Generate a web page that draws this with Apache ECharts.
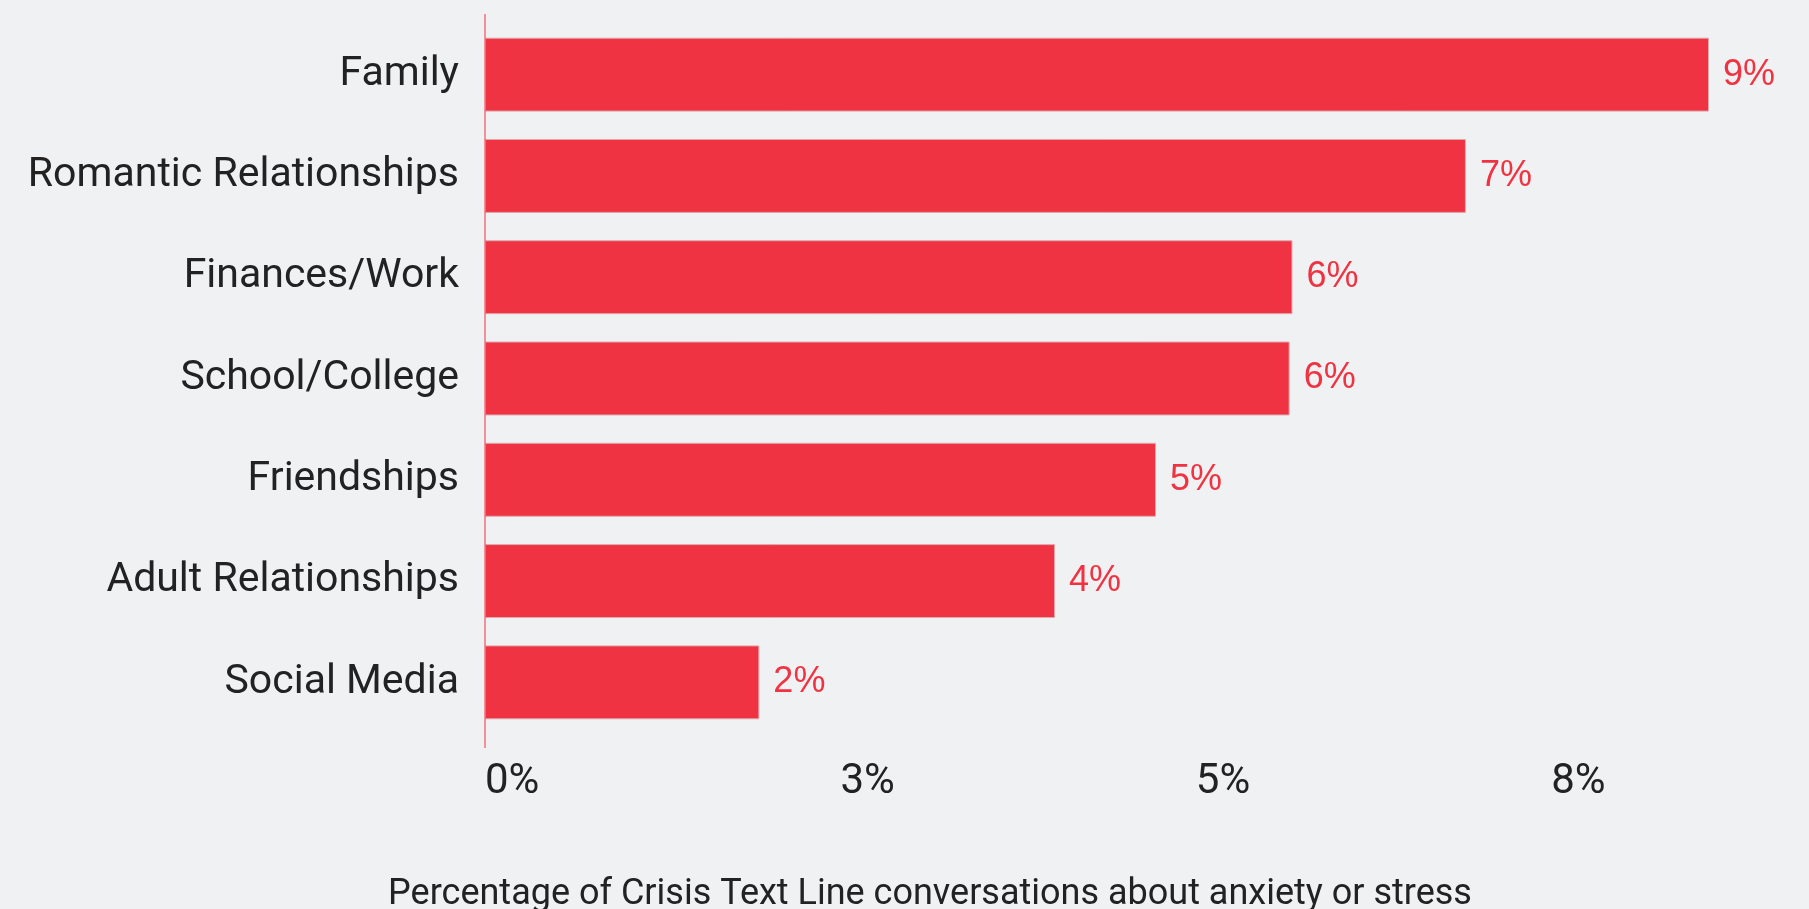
<!DOCTYPE html>
<html>
<head>
<meta charset="utf-8">
<script src="https://cdn.jsdelivr.net/npm/echarts@6.0.0/dist/echarts.min.js"></script>
<style>
  html, body { margin: 0; padding: 0; background: #f0f1f3; }
  #chart { width: 1809px; height: 909px; }
</style>
</head>
<body>
<div id="chart"></div>
<script>
const categories = ['Family', 'Romantic Relationships', 'Finances/Work', 'School/College', 'Friendships', 'Adult Relationships', 'Social Media'];
const values = [8.61, 6.9, 5.68, 5.66, 4.72, 4.01, 1.93];
const axisTitle = 'Percentage of Crisis Text Line conversations about anxiety or stress';

const red = '#ef3342';
const gridTop = 24;
const gridBottom = 176;

const chart = echarts.init(document.getElementById('chart'));

const option = {
  backgroundColor: '#f0f1f3',
  animation: false,
  title: {
    text: axisTitle,
    left: 925,
    textAlign: 'center',
    top: 872,
    textStyle: { fontFamily: 'Roboto', fontSize: 36, fontWeight: 'normal', color: '#222' }
  },
  grid: { left: 485, right: 100, top: gridTop, bottom: gridBottom, containLabel: false, outerBoundsMode: 'none' },
  xAxis: {
    type: 'value',
    min: 0,
    max: 'dataMax',
    interval: 2.5,
    splitLine: { show: false },
    axisLine: { show: false },
    axisTick: { show: false },
    axisLabel: {
      showMaxLabel: false,
      align: 'left',
      margin: 28,
      fontFamily: 'Roboto',
      fontSize: 42,
      color: '#222',
      formatter: v => Math.round(v) + '%'
    }
  },
  yAxis: {
    type: 'category',
    data: categories,
    inverse: true,
    axisLine: { show: false },
    axisTick: { show: false },
    axisLabel: { margin: 26, fontFamily: 'Roboto', fontSize: 41, color: '#222' }
  },
  series: [{
    type: 'bar',
    data: values,
    barCategoryGap: '27%',
    itemStyle: { color: red, borderColor: '#e0a9ae', borderWidth: 1 },
    label: {
      show: true,
      position: 'right',
      distance: 14,
      fontFamily: 'Liberation Sans',
      fontSize: 36,
      color: red,
      formatter: p => Math.round(p.value) + '%'
    }
  }]
};
chart.setOption(option);

// red zero line, slightly longer than the plot area
const x0 = chart.convertToPixel({ xAxisIndex: 0 }, 0);
chart.setOption({
  graphic: [{
    type: 'line',
    shape: { x1: x0, y1: gridTop - 10, x2: x0, y2: 909 - gridBottom + 15 },
    style: { stroke: red, lineWidth: 1 },
    z: 10
  }]
});
</script>
</body>
</html>
